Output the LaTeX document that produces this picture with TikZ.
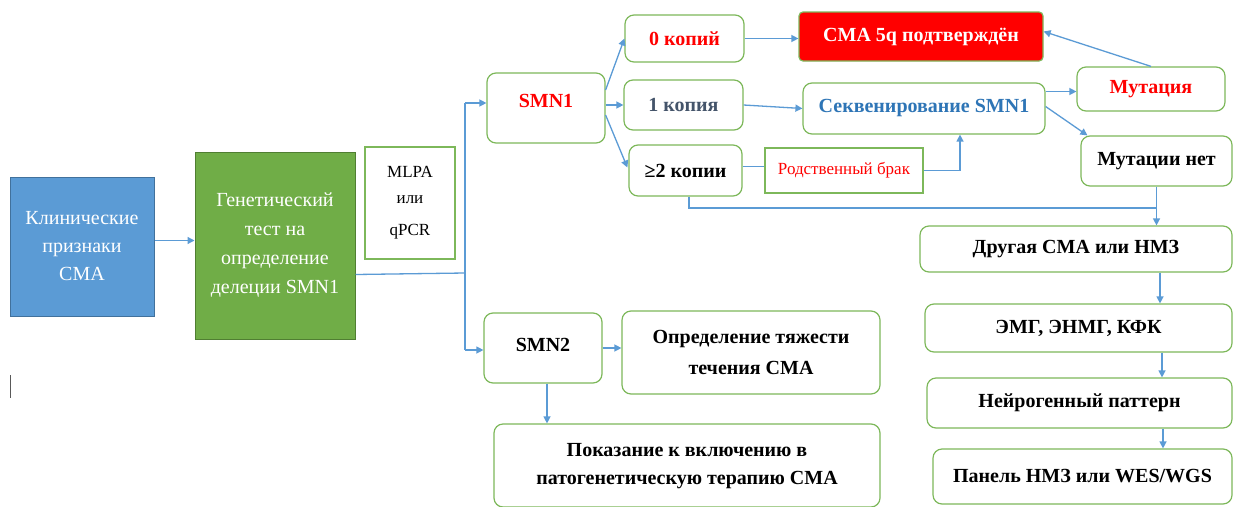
\documentclass[tikz,border=0pt]{standalone}
\usepackage{fontspec}
\setmainfont{Liberation Serif}
\usetikzlibrary{arrows.meta}
\definecolor{bfill}{HTML}{5B9BD5}
\definecolor{bline}{HTML}{41719C}
\definecolor{gfill}{HTML}{70AD47}
\definecolor{gline}{HTML}{507E32}
\definecolor{gborder}{HTML}{7DB85A}
\definecolor{arrowc}{HTML}{5B9BD5}
\definecolor{txtred}{HTML}{FF0000}
\definecolor{txtblue}{HTML}{2E75B6}
\definecolor{txtslate}{HTML}{44546A}
\begin{document}
\begin{tikzpicture}[x=1pt,y=-1pt,
  rbox/.style={draw=gborder, line width=1.2pt, rounded corners=9pt, fill=white, align=center, inner sep=2pt,
    font=\bfseries\fontsize{20}{28}\selectfont},
  sqbox/.style={draw=gborder, line width=1.2pt, fill=white, align=center, inner sep=2pt},
  lbl/.style={align=center, inner sep=0pt, font=\bfseries\fontsize{20}{28}\selectfont},
  arr/.style={draw=arrowc, line width=1.3pt, -{Triangle[length=7pt,width=7pt]}},
  ln/.style={draw=arrowc, line width=1.3pt}]
\clip (0,0) rectangle (1238,506);
\fill[white] (0,0) rectangle (1238,506);

% left boxes
\node[draw=bline, line width=1pt, fill=bfill, text=white, align=center, minimum width=144pt, minimum height=139pt,
  font=\fontsize{20}{28}\selectfont] (klin) at (82,246.5) {Клинические\\признаки\\СМА};
\node[draw=gline, line width=1pt, fill=gfill, text=white, align=center, minimum width=160pt, minimum height=187pt,
  font=\fontsize{20}{29}\selectfont] (gen) at (275,245.5) {Генетический\\тест на\\определение\\делеции  SMN1};
\node[sqbox, minimum width=90pt, minimum height=112pt, font=\fontsize{17}{26}\selectfont] (mlpa) at (410,203) {MLPA\\или\\[6pt]qPCR};

% SMN1 branch
\node[rbox, minimum width=118pt, minimum height=70pt] (smn1) at (546,108) {};
\node[lbl, text=txtred] (smn1t) at (546,101) {SMN1};
\node[rbox, minimum width=119pt, minimum height=47pt, text=txtred] (k0) at (684.5,38.5) {0 копий};
\node[rbox, minimum width=119pt, minimum height=50pt, text=txtslate] (k1) at (683.5,105) {1 копия};
\node[rbox, minimum width=113pt, minimum height=51pt, text=black] (k2) at (685.5,170.5) {≥2 копии};
\node[draw=gborder, line width=1.2pt, rounded corners=4pt, fill=txtred, text=white, align=center,
  minimum width=244pt, minimum height=49pt, font=\bfseries\fontsize{20}{28}\selectfont] (conf) at (921,36.5) {СМА 5q подтверждён};
\node[rbox, minimum width=242pt, minimum height=51pt, text=txtblue] (seq) at (924,108.5) {Секвенирование SMN1};
\node[sqbox, minimum width=158pt, minimum height=45pt, text=txtred, font=\fontsize{17}{20}\selectfont] (rod) at (844,170.5) {Родственный брак};
\node[rbox, minimum width=148pt, minimum height=44pt, text=txtred] (mut) at (1151,89) {Мутация};
\node[rbox, minimum width=151pt, minimum height=50pt, text=black] (nomut) at (1156.5,161) {Мутации нет};
\node[rbox, minimum width=312pt, minimum height=46pt] (other) at (1076,249) {Другая СМА или НМЗ};
\node[rbox, minimum width=307pt, minimum height=48pt] (emg) at (1078.5,328) {ЭМГ, ЭНМГ, КФК};
\node[rbox, minimum width=305pt, minimum height=50pt] (neuro) at (1079.5,403) {Нейрогенный паттерн};
\node[rbox, minimum width=299pt, minimum height=55pt] (panel) at (1082.5,476.5) {Панель НМЗ или WES/WGS};

% SMN2 branch
\node[rbox, minimum width=118pt, minimum height=70pt] (smn2) at (543,348) {};
\node[lbl] (smn2t) at (543,345) {SMN2};
\node[rbox, minimum width=258pt, minimum height=83pt, font=\bfseries\fontsize{20}{31}\selectfont] (sev) at (751,352.5) {Определение тяжести\\течения СМА};
\node[rbox, minimum width=386pt, minimum height=83pt] (ind) at (687,465.5) {};
\node[lbl] (indt) at (687,466) {Показание к включению в\\патогенетическую терапию СМА};

% connectors
\draw[arr] ([yshift=6pt]klin.east) -- ([yshift=6pt]klin.east -| gen.west);
\coordinate (t) at (465,273);
\coordinate (tA) at (465,103);
\coordinate (tB) at (465,350);
\draw[ln] ([yshift=-29pt]gen.east) -- (t);
\draw[ln] (tA) -- (tB);
\draw[arr] (tA) -- (tA -| smn1.west);
\draw[arr] (tB) -- (tB -| smn2.west);

\draw[arr] ([yshift=18pt]smn1.east) -- (k0.west);
\draw[arr] (smn1.east |- k1.west) -- (k1.west);
\draw[arr] ([yshift=-7pt]smn1.east) -- ([xshift=-1pt,yshift=3pt]k2.west);
\draw[arr] (k0.east) -- (k0.east -| conf.west);
\draw[arr] (k1.east) -- (seq.west);
\draw[ln] ([yshift=4pt]k2.east) -- ([yshift=4pt]k2.east -| rod.west);
\draw[arr] (rod.east) -| ([xshift=36pt]seq.south);
\coordinate (j) at (nomut.south |- 0,208);
\draw[ln] ([xshift=3.5pt]k2.south) |- (j);
\draw[arr] (nomut.south) -- (nomut.south |- other.north);
\draw[arr] ([yshift=17pt]seq.east) -- ([yshift=17pt]seq.east -| mut.west);
\draw[arr] ([yshift=2pt]seq.east) -- ([xshift=7pt]nomut.north west);
\draw[arr] (mut.north) -- ([yshift=5pt]conf.east);
\draw[arr] ([xshift=84pt]other.south) -- ([xshift=84pt]other.south |- emg.north);
\draw[arr] ([xshift=83.5pt]emg.south) -- ([xshift=83.5pt]emg.south |- neuro.north);
\draw[arr] ([xshift=83.5pt]neuro.south) -- ([xshift=83.5pt]neuro.south |- panel.north);
\draw[arr] (smn2.east) -- (smn2.east -| sev.west);
\draw[arr] ([xshift=4pt]smn2.south) -- ([xshift=4pt]smn2.south |- ind.north);

% stray cursor mark
\draw[gray!70!black, line width=0.8pt] (10,375) -- (10,398);
\end{tikzpicture}
\end{document}
